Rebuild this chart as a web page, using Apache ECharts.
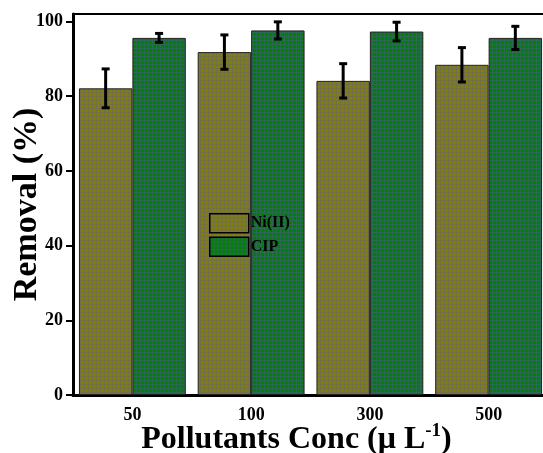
<!DOCTYPE html>
<html>
<head>
<meta charset="utf-8">
<script src="https://cdn.jsdelivr.net/npm/echarts@6/dist/echarts.min.js"></script>
<style>
html,body{margin:0;padding:0;background:#fff;}
#chart{width:543px;height:453px;}
</style>
</head>
<body>
<div id="chart"></div>
<script>
// Removal efficiency at each pollutant concentration
const categories = ['50', '100', '300', '500'];
const niRemoval = [82.1, 91.8, 84.1, 88.4];
const niError = [5.2, 4.6, 4.6, 4.6];
const cipRemoval = [95.6, 97.6, 97.3, 95.6];
const cipError = [1.2, 2.3, 2.5, 3.1];
const yTicks = [0, 20, 40, 60, 80, 100];
const seriesNames = ['Ni(II)', 'CIP'];

const FONT = '"Liberation Serif", "Times New Roman", serif';

// fine cross-hatched fill used for the bars
function gridPattern(base, line) {
  const c = document.createElement('canvas');
  c.width = 4; c.height = 4;
  const g = c.getContext('2d');
  g.fillStyle = base;
  g.fillRect(0, 0, 4, 4);
  g.fillStyle = line;
  g.fillRect(0, 0, 4, 1);
  g.fillRect(0, 0, 1, 4);
  return { image: c, repeat: 'repeat' };
}
const niFill = gridPattern('#818000', '#747046');
const cipFill = gridPattern('#008200', '#2a6a52');

const BAND_FRACTION = 0.9; // 10% category gap

function errorBars(values, errors) {
  return values.map((v, i) => [i, v - errors[i], v + errors[i]]);
}

function errorRender(side) {
  return function (params, api) {
    const idx = api.value(0);
    const band = api.size([1, 0])[0];
    const off = side * band * BAND_FRACTION / 4;
    const lo = api.coord([idx, api.value(1)]);
    const hi = api.coord([idx, api.value(2)]);
    const x = lo[0] + off;
    const cap = 4;
    const style = { stroke: '#000', lineWidth: 3 };
    return {
      type: 'group',
      children: [
        { type: 'line', shape: { x1: x, y1: hi[1], x2: x, y2: lo[1] }, style },
        { type: 'line', shape: { x1: x - cap, y1: hi[1], x2: x + cap, y2: hi[1] }, style },
        { type: 'line', shape: { x1: x - cap, y1: lo[1], x2: x + cap, y2: lo[1] }, style }
      ]
    };
  };
}

const chart = echarts.init(document.getElementById('chart'), null, { renderer: 'canvas' });
chart.setOption({
  animation: false,
  backgroundColor: '#fff',
  grid: {
    left: 73, top: 14, width: 475, height: 381,
    containLabel: false, outerBoundsMode: 'none',
    show: true, borderColor: '#000', borderWidth: 2, backgroundColor: 'transparent'
  },
  legend: {
    left: 204, top: 208,
    orient: 'vertical',
    itemWidth: 39, itemHeight: 19, itemGap: 3,
    data: seriesNames,
    icon: 'rect',
    itemStyle: { borderColor: '#000', borderWidth: 1.5 },
    textStyle: { fontFamily: FONT, fontWeight: 'bold', fontSize: 16, color: '#000', padding: [0, 0, 0, -3] }
  },
  xAxis: {
    type: 'category',
    data: categories,
    axisLine: { lineStyle: { color: '#000', width: 3 } },
    axisTick: { alignWithLabel: true, length: 5, lineStyle: { width: 2, color: '#000' } },
    axisLabel: { fontFamily: FONT, fontWeight: 'bold', fontSize: 18, color: '#000', margin: 11 },
    name: 'Pollutants Conc (μ L{sup|-1})',
    nameLocation: 'middle',
    nameMoveOverlap: false,
    nameGap: 27,
    nameTextStyle: {
      fontFamily: FONT, fontWeight: 'bold', fontSize: 32, color: '#000',
      padding: [0, 0, 0, -28],
      rich: { sup: { fontFamily: FONT, fontWeight: 'bold', fontSize: 19, color: '#000', verticalAlign: 'top', padding: [0, 0, 16, 0] } }
    }
  },
  yAxis: {
    type: 'value',
    min: 0, max: 102, interval: 20,
    splitLine: { show: false },
    axisLine: { show: true, lineStyle: { color: '#000', width: 3 } },
    axisTick: { show: true, length: 7, lineStyle: { width: 2, color: '#000' }, customValues: yTicks },
    axisLabel: { fontFamily: FONT, fontWeight: 'bold', fontSize: 18, color: '#000', margin: 10, customValues: yTicks },
    name: 'Removal (%)',
    nameLocation: 'middle',
    nameMoveOverlap: false,
    nameGap: 29,
    nameTextStyle: { fontFamily: FONT, fontWeight: 'bold', fontSize: 34, color: '#000' }
  },
  series: [
    {
      name: seriesNames[0], type: 'bar', data: niRemoval,
      barGap: '0%', barCategoryGap: '10%',
      itemStyle: { color: niFill, borderColor: '#222', borderWidth: 1 }
    },
    {
      name: seriesNames[1], type: 'bar', data: cipRemoval,
      barGap: '0%', barCategoryGap: '10%',
      itemStyle: { color: cipFill, borderColor: '#222', borderWidth: 1 }
    },
    {
      type: 'custom', renderItem: errorRender(-1),
      data: errorBars(niRemoval, niError), z: 10, silent: true
    },
    {
      type: 'custom', renderItem: errorRender(1),
      data: errorBars(cipRemoval, cipError), z: 10, silent: true
    }
  ]
});
</script>
</body>
</html>
